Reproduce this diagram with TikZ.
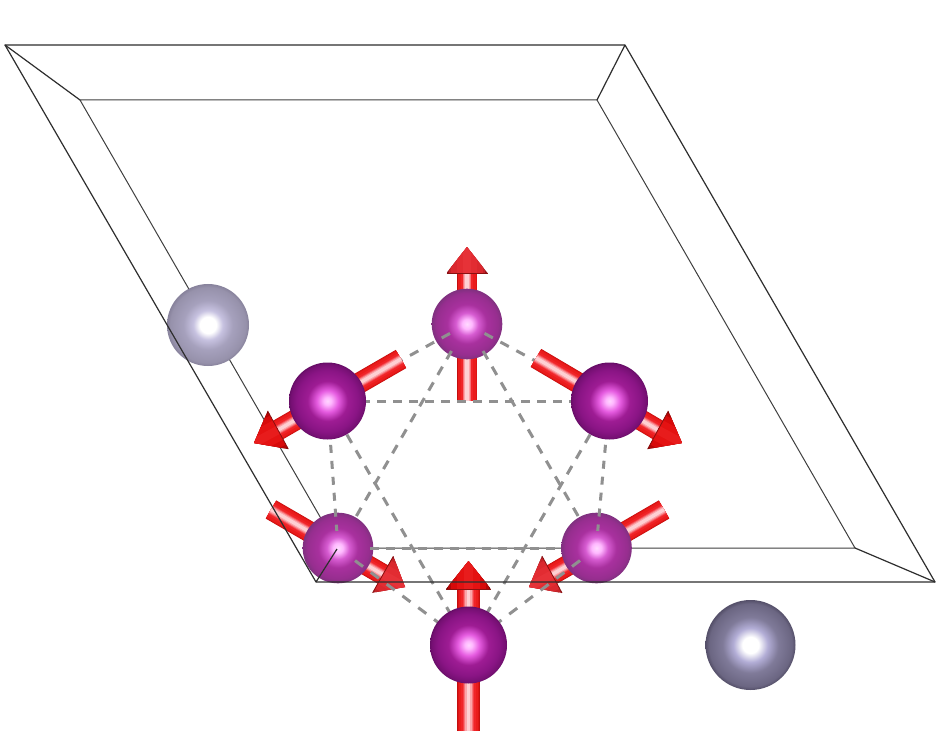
\documentclass[tikz,border=0pt]{standalone}
\usetikzlibrary{calc}
\definecolor{dk}{HTML}{2E2E2E}
\definecolor{innerc}{HTML}{404040}
\definecolor{bond}{HTML}{909090}
\definecolor{headedge}{HTML}{8A1010}
% sphere shadings (the rim of the sphere falls at 25bp)
\pgfdeclareradialshading{mnfront}{\pgfpoint{0bp}{0bp}}{
 rgb(0bp)=(1,.84,1);
 rgb(2.5bp)=(1,.72,1);
 rgb(7bp)=(.90,.36,.88);
 rgb(13bp)=(.62,.11,.58);
 rgb(20bp)=(.54,.08,.52);
 rgb(24bp)=(.46,.06,.45);
 rgb(25bp)=(.40,.05,.40);
 rgb(50bp)=(.40,.05,.40)}
\pgfdeclareradialshading{mnback}{\pgfpoint{0bp}{0bp}}{
 rgb(0bp)=(1,.86,1);
 rgb(3.5bp)=(1,.72,1);
 rgb(8bp)=(.84,.36,.82);
 rgb(14bp)=(.66,.19,.62);
 rgb(22bp)=(.59,.18,.56);
 rgb(25bp)=(.50,.19,.50);
 rgb(50bp)=(.50,.19,.50)}
\pgfdeclareradialshading{grayback}{\pgfpoint{0bp}{0bp}}{
 rgb(0bp)=(1,1,1);
 rgb(5bp)=(1,1,1);
 rgb(9bp)=(.78,.76,.88);
 rgb(15bp)=(.65,.63,.74);
 rgb(23bp)=(.59,.57,.67);
 rgb(25bp)=(.53,.51,.61);
 rgb(50bp)=(.53,.51,.61)}
\pgfdeclareradialshading{grayfront}{\pgfpoint{0bp}{0bp}}{
 rgb(0bp)=(1,1,1);
 rgb(4.5bp)=(1,1,1);
 rgb(9.5bp)=(.70,.68,.84);
 rgb(15.5bp)=(.50,.48,.60);
 rgb(23bp)=(.42,.40,.51);
 rgb(25bp)=(.33,.31,.41);
 rgb(50bp)=(.33,.31,.41)}
% nested strokes give a tube its cross-section
\newcommand{\tubepath}[6]{% x1 y1 x2 y2 width stops
 \foreach \f/\c in #6 {\draw[line width=\f*#5 pt,color=\c] (#1,#2) -- (#3,#4);}}
\def\shaftstops{1/{rgb,255:red,196;green,14;blue,14},.95/{rgb,255:red,222;green,20;blue,20},.86/{rgb,255:red,234;green,28;blue,28},.62/{rgb,255:red,240;green,36;blue,40},.44/{rgb,255:red,244;green,66;blue,72},.36/{rgb,255:red,248;green,115;blue,120},.27/{rgb,255:red,251;green,165;blue,170},.16/{rgb,255:red,254;green,208;blue,211}}
\def\headfront{1/{rgb,255:red,120;green,0;blue,0},.9/{rgb,255:red,180;green,5;blue,5},.76/{rgb,255:red,215;green,10;blue,10},.5/{rgb,255:red,228;green,18;blue,18},.2/{rgb,255:red,232;green,28;blue,28}}
\def\headback{1/{rgb,255:red,150;green,20;blue,30},.9/{rgb,255:red,195;green,35;blue,40},.76/{rgb,255:red,218;green,40;blue,46},.5/{rgb,255:red,226;green,44;blue,50},.2/{rgb,255:red,230;green,50;blue,56}}
\newcommand{\spinarrow}[9]{%
 % #1,#2 tail  #3,#4 tip  #5,#6 head base centre  #7 shaft width  #8 head half width  #9 head stops
 \tubepath{#1}{#2}{#5}{#6}{#7}{\shaftstops}
 \begin{scope}
  \coordinate (hb) at (#5,#6);
  \coordinate (ht) at (#3,#4);
  \clip ($(hb)!#8pt!90:(ht)$) -- (ht) -- ($(hb)!#8pt!-90:(ht)$) -- cycle;
  \tubepath{#3}{#4}{#5}{#6}{#8*2}{#9}
 \end{scope}
 \draw[headedge,line width=.8pt] ($(hb)!#8pt!90:(ht)$) -- ($(hb)!#8pt!-90:(ht)$);}
\tikzset{
 cell/.style={color=dk,line width=1.2pt,line join=round},
 innerline/.style={color=innerc,line width=1pt},
 bondbase/.style={color=bond,line width=3pt},
 bondh/.style={bondbase,dash pattern=on 8.5pt off 7.5pt},
 bondv/.style={bondbase,dash pattern=on 8pt off 8pt},
 bondd/.style={bondbase,dash pattern=on 9.5pt off 8.6pt},
 bonde/.style={bondbase,dash pattern=on 10pt off 9.7pt}
}
\begin{document}
\begin{tikzpicture}[x=1pt,y=-1pt]
\useasboundingbox (0,0) rectangle (943,754);
\fill[white] (0,0) rectangle (943,754);
\coordinate (A) at (467,324);
\coordinate (B) at (609.5,401);
\coordinate (C) at (596.5,548);
\coordinate (D) at (468.5,645);
\coordinate (E) at (338,548);
\coordinate (F) at (327.5,401);
% inner box
\draw[innerline] (338,548) -- (80,100) -- (597,100) -- (855,548) -- cycle;
% grey atoms
\shade[shading=grayback] (208,325) circle[radius=41pt];
\shade[shading=grayfront] (750.5,645) circle[radius=45pt];
% far spin arrows and atoms
\spinarrow{467}{401}{467}{247}{467}{273}{20}{20.5}{\headback}
\spinarrow{271}{509.5}{405}{587}{383}{574.5}{21}{21}{\headback}
\spinarrow{664}{509.5}{529}{587}{552}{574.5}{21}{21}{\headback}
\shade[shading=mnback] (A) circle[radius=35.3pt];
\shade[shading=mnback] (E) circle[radius=35.3pt];
\shade[shading=mnback] (C) circle[radius=35.3pt];
% bonds
\draw[bondh] (329,401) -- (B);
\draw[bondh] (370,548) -- (561,548);
\draw[bondd] (451.5,351) -- (356.4,516);
\draw[bondd] (483,351) -- (578.1,516);
\draw[bondd] (337.9,419) -- (452.3,617);
\draw[bondd] (599.1,419) -- (484.7,617);
\draw[bondd] (450,333.4) -- (F);
\draw[bondd] (484.5,333.4) -- (B);
\draw[bondv] (327.2,397) -- (336.8,531);
\draw[bondv] (609.8,397) -- (597.7,531);
\draw[bonde] (355,560.6) -- (D);
\draw[bonde] (580,560.5) -- (D);
% near spin arrows and atoms
\spinarrow{401}{359}{254}{443}{278}{430}{21}{21.7}{\headfront}
\spinarrow{536}{358}{682}{443}{658}{430}{21}{21.7}{\headfront}
\spinarrow{468.5}{731}{468.5}{561}{468.5}{589}{23}{22.5}{\headfront}
\shade[shading=mnfront] (F) circle[radius=38.5pt];
\shade[shading=mnfront] (B) circle[radius=38.5pt];
\shade[shading=mnfront] (D) circle[radius=38.5pt];
% outer box
\draw[cell] (5,45) -- (625,45) -- (935,582) -- (316,582) -- cycle;
\draw[cell] (5,45) -- (80,100);
\draw[cell] (625,45) -- (597,100);
\draw[cell] (935,582) -- (855,548);
\draw[cell] (316,582) -- (337,549);
\end{tikzpicture}
\end{document}
